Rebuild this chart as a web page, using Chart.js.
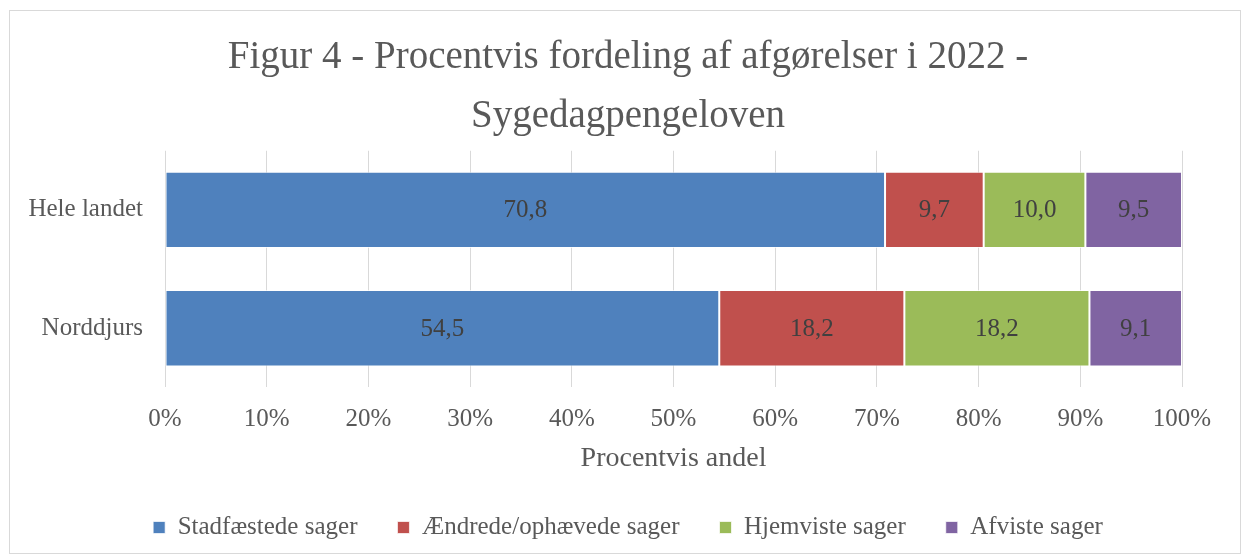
<!DOCTYPE html>
<html>
<head>
<meta charset="utf-8">
<script src="https://cdn.jsdelivr.net/npm/chart.js@4.4.1/dist/chart.umd.min.js"></script>
<style>
  html, body { margin: 0; padding: 0; background: #ffffff; }
  #frame { position: absolute; left: 9px; top: 10px; width: 1230px; height: 542px; border: 1px solid #d9d9d9; }
  #wrap { position: absolute; left: 0; top: 0; width: 1244px; height: 556px; }
</style>
</head>
<body>
<div id="frame"></div>
<div id="wrap"><canvas id="c" width="1244" height="556"></canvas></div>
<script>
const categories = ["Hele landet", "Norddjurs"];
const seriesNames = ["Stadfæstede sager", "Ændrede/ophævede sager", "Hjemviste sager", "Afviste sager"];
const stadfaestede = [70.8, 54.5];
const aendrede = [9.7, 18.2];
const hjemviste = [10.0, 18.2];
const afviste = [9.5, 9.1];
const seriesColors = ["#4F81BD", "#C0504D", "#9BBB59", "#8064A2"];
const titleLines = ["Figur 4 - Procentvis fordeling af afgørelser i 2022 -", "Sygedagpengeloven"];
const axisTitle = "Procentvis andel";

const FONT = "'Liberation Serif', 'DejaVu Serif', serif";
const seriesValues = [stadfaestede, aendrede, hjemviste, afviste];

const dataLabelPlugin = {
  id: 'dataLabels',
  afterDatasetsDraw(chart) {
    const ctx = chart.ctx;
    ctx.save();
    ctx.font = "25px " + FONT;
    ctx.fillStyle = "#404040";
    ctx.textAlign = "center";
    ctx.textBaseline = "middle";
    chart.data.datasets.forEach((ds, i) => {
      const meta = chart.getDatasetMeta(i);
      meta.data.forEach((el, j) => {
        const p = el.getCenterPoint();
        const txt = ds.data[j].toFixed(1).replace('.', ',');
        ctx.fillText(txt, p.x, p.y + 1);
      });
    });
    ctx.restore();
  }
};

Chart.defaults.font.family = FONT;
Chart.defaults.color = "#595959";

new Chart(document.getElementById('c'), {
  type: 'bar',
  data: {
    labels: categories,
    datasets: seriesNames.map((name, i) => ({
      label: name,
      data: seriesValues[i],
      backgroundColor: seriesColors[i],
      borderColor: "rgba(255,255,255,0.7)",
      borderWidth: 1,
      borderSkipped: false,
      categoryPercentage: 1.0,
      barPercentage: 0.645
    }))
  },
  options: {
    indexAxis: 'y',
    responsive: false,
    animation: false,
    devicePixelRatio: 1,
    layout: { padding: { left: 74, right: 62, top: 0, bottom: 6 } },
    plugins: {
      title: {
        display: true,
        text: titleLines,
        color: "#595959",
        font: { size: 39, weight: 'normal', family: FONT, lineHeight: 1.51 },
        padding: { top: 28, bottom: 5 }
      },
      legend: {
        position: 'bottom',
        labels: {
          boxWidth: 12,
          boxHeight: 12,
          padding: 40,
          color: "#595959",
          font: { size: 25, family: FONT }
        }
      },
      tooltip: { enabled: false }
    },
    scales: {
      x: {
        stacked: true,
        min: 0,
        max: 100,
        ticks: {
          stepSize: 10,
          padding: 17,
          color: "#595959",
          font: { size: 25, family: FONT },
          callback: v => v + '%'
        },
        grid: { color: "#d9d9d9", lineWidth: 1, drawTicks: false },
        border: { display: false },
        title: {
          display: true,
          text: axisTitle,
          color: "#595959",
          font: { size: 28, family: FONT },
          padding: { top: -10, bottom: 0 }
        }
      },
      y: {
        stacked: true,
        ticks: {
          padding: 14,
          color: "#595959",
          font: { size: 25, family: FONT }
        },
        grid: { display: false },
        border: { display: false },
        afterFit(scale) {
          scale.width = 91;
          scale._computeLabelArea = () => undefined;
        }
      }
    }
  },
  plugins: [dataLabelPlugin]
});
</script>
</body>
</html>
